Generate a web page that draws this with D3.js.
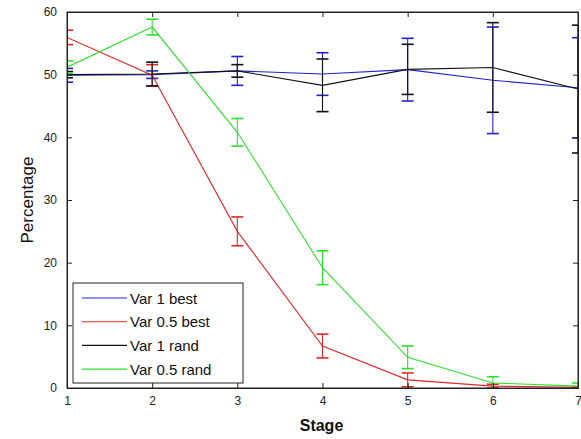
<!DOCTYPE html>
<html>
<head>
<meta charset="utf-8">
<script src="https://cdn.jsdelivr.net/npm/d3@7"></script>
<style>
  html, body { margin: 0; padding: 0; background: #fff; }
  svg { display: block; font-family: "Liberation Sans", Arial, sans-serif; }
</style>
</head>
<body>
<svg id="chart" width="581" height="439"></svg>
<script>
// Stages on the x axis
const stages = [1, 2, 3, 4, 5, 6, 7];
const xTicks = [1, 2, 3, 4, 5, 6, 7];
const yTicks = [0, 10, 20, 30, 40, 50, 60];

// Mean percentage per stage, with error bar half-widths
const var1BestMean  = [49.9, 50.0, 50.6, 50.1, 50.8, 49.1, 47.9];
const var1BestErr   = [1.1, 0.6, 2.3, 3.4, 5.0, 8.5, 8.0];
const var05BestMean = [55.95, 49.9, 25.0, 6.7, 1.3, 0.3, 0.1];
const var05BestErr  = [1.15, 1.7, 2.3, 1.9, 1.1, 0.3, 0.1];
const var1RandMean  = [50.0, 50.1, 50.6, 48.3, 50.85, 51.15, 47.7];
const var1RandErr   = [0.5, 1.9, 1.0, 4.2, 4.0, 7.15, 10.2];
const var05RandMean = [51.2, 57.6, 40.8, 19.2, 4.9, 0.8, 0.3];
const var05RandErr  = [1.0, 1.25, 2.2, 2.7, 1.8, 1.0, 0.5];

const seriesNames = ["Var 1 best", "Var 0.5 best", "Var 1 rand", "Var 0.5 rand"];
const seriesColors = ["#2222cc", "#e02828", "#111111", "#2ee02e"];

const series = [
  { name: seriesNames[0], color: seriesColors[0], mean: var1BestMean, err: var1BestErr },
  { name: seriesNames[1], color: seriesColors[1], mean: var05BestMean, err: var05BestErr },
  { name: seriesNames[2], color: seriesColors[2], mean: var1RandMean, err: var1RandErr },
  { name: seriesNames[3], color: seriesColors[3], mean: var05RandMean, err: var05RandErr }
];

const svg = d3.select("#chart");
const m = { left: 67, right: 3, top: 12, bottom: 51 };
const W = 581, H = 439;
const iw = W - m.left - m.right, ih = H - m.top - m.bottom;

const x = d3.scaleLinear().domain([1, 7]).range([0, iw]);
const y = d3.scaleLinear().domain([0, 60]).range([ih, 0]);

const g = svg.append("g").attr("transform", `translate(${m.left},${m.top})`);

svg.append("defs").append("clipPath").attr("id", "plotClip")
  .append("rect").attr("x", 0).attr("y", 0).attr("width", iw).attr("height", ih);

const plot = g.append("g").attr("clip-path", "url(#plotClip)");

const line = d3.line().x((d, i) => x(stages[i])).y(d => y(d));
const capHalf = 6;

series.forEach(s => {
  const sg = plot.append("g").attr("stroke", s.color).attr("fill", "none").attr("stroke-width", 1.1);
  sg.append("path").attr("d", line(s.mean));
  stages.forEach((st, i) => {
    const cx = x(st), hi = y(s.mean[i] + s.err[i]), lo = y(s.mean[i] - s.err[i]);
    sg.append("line").attr("x1", cx).attr("x2", cx).attr("y1", hi).attr("y2", lo);
    sg.append("line").attr("x1", cx - capHalf).attr("x2", cx + capHalf).attr("y1", hi).attr("y2", hi).attr("stroke-width", 1.6);
    sg.append("line").attr("x1", cx - capHalf).attr("x2", cx + capHalf).attr("y1", lo).attr("y2", lo).attr("stroke-width", 1.6);
  });
});

// Box with inward ticks on all four sides
const axisColor = "#222";
const tickLen = 5;
const axesG = g.append("g").attr("stroke", axisColor).attr("stroke-width", 1);
axesG.append("rect").attr("x", 0).attr("y", 0).attr("width", iw).attr("height", ih).attr("fill", "none");

const bottomAxis = g.append("g").attr("transform", `translate(0,${ih})`)
  .call(d3.axisBottom(x).tickValues(xTicks).tickFormat(d3.format("d")).tickSize(-tickLen).tickPadding(8));
const topAxis = g.append("g")
  .call(d3.axisTop(x).tickValues(xTicks).tickSize(-tickLen).tickFormat(""));
const leftAxis = g.append("g")
  .call(d3.axisLeft(y).tickValues(yTicks).tickFormat(d3.format("d")).tickSize(-tickLen).tickPadding(10));
const rightAxis = g.append("g").attr("transform", `translate(${iw},0)`)
  .call(d3.axisRight(y).tickValues(yTicks).tickSize(-tickLen).tickFormat(""));

[bottomAxis, topAxis, leftAxis, rightAxis].forEach(a => {
  a.select(".domain").attr("stroke", axisColor);
  a.selectAll(".tick line").attr("stroke", axisColor);
  a.selectAll("text").attr("fill", "#222").style("font-size", "12px")
    .style("font-family", "'Liberation Sans', Arial, sans-serif");
});

// Axis titles
svg.append("text").attr("x", m.left + iw / 2 - 1).attr("y", 431)
  .attr("text-anchor", "middle").style("font-size", "16px").style("font-weight", "bold")
  .attr("fill", "#111").text("Stage");
svg.append("text").attr("transform", `translate(33,${m.top + ih / 2}) rotate(-90)`)
  .attr("text-anchor", "middle").style("font-size", "17px")
  .attr("fill", "#111").text("Percentage");

// Legend
const lg = svg.append("g").attr("transform", "translate(73,283)");
lg.append("rect").attr("x", 0).attr("y", 0).attr("width", 170).attr("height", 100)
  .attr("fill", "#fff").attr("stroke", "#222").attr("stroke-width", 1);
series.forEach((s, i) => {
  const yy = 15 + i * 23.7;
  lg.append("line").attr("x1", 9).attr("x2", 54).attr("y1", yy).attr("y2", yy)
    .attr("stroke", s.color).attr("stroke-width", 1.1);
  lg.append("text").attr("x", 57).attr("y", yy + 5.5).style("font-size", "15px")
    .attr("fill", "#111").text(s.name);
});
</script>
</body>
</html>
